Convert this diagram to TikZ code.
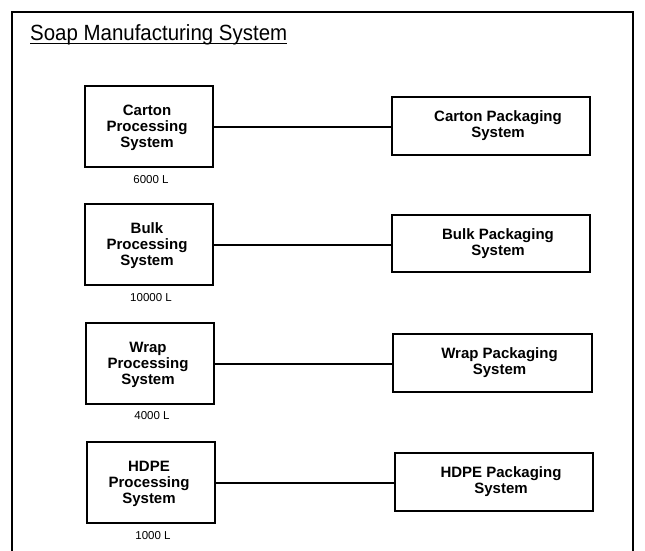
\documentclass[tikz,border=0pt]{standalone}
\usepackage{fontspec}
\setmainfont{Liberation Sans}
\newfontfamily\titlefont[FakeStretch=0.93]{Liberation Sans}
\begin{document}
\begin{tikzpicture}[x=1pt,y=-1pt,
  procbox/.style={draw=black,line width=1.1pt,minimum width=128pt,minimum height=81pt,inner sep=0pt},
  packbox/.style={draw=black,line width=1.1pt,minimum width=198pt,minimum height=58pt,inner sep=0pt},
  boxtxt/.style={align=center,font=\bfseries\fontsize{15}{16}\selectfont,inner sep=0pt},
  volcap/.style={font=\fontsize{11.5}{13}\selectfont,inner sep=0pt},
  connline/.style={draw=black,line width=2pt},
  outerframe/.style={draw=black,line width=1.2pt}]
\useasboundingbox (0,0) rectangle (645,551);
\fill[white] (0,0) rectangle (645,551);
% outer frame (open at the bottom)
\coordinate (fbl) at (12,551);
\coordinate (ftl) at (12,12);
\coordinate (ftr) at (633,12);
\coordinate (fbr) at (633,551);
\draw[outerframe] (fbl) -- (ftl) -- (ftr) -- (fbr);
% title
\node[anchor=base west,inner sep=0pt,font=\titlefont\fontsize{22}{24}\selectfont] (title) at (30,41) {Soap Manufacturing System};
\draw[line width=1pt] ([yshift=-3pt]title.base west) -- ([yshift=-3pt]title.base east);
% Carton
\node[procbox] (cl) at (149,126.5) {};
\node[boxtxt] (clt) at ([xshift=-2pt,yshift=-1pt]cl.center) {Carton\\Processing\\System};
\node[volcap] (clc) at (151,180) {6000 L};
\node[packbox] (cr) at (491,126) {};
\node[boxtxt] (crt) at ([xshift=7pt]cr.center) {Carton Packaging\\System};
\draw[connline] (cl.east) -- (cl.east -| cr.west);
% Bulk
\node[procbox] (bl) at (149,244.5) {};
\node[boxtxt] (blt) at ([xshift=-2pt,yshift=-1pt]bl.center) {Bulk\\Processing\\System};
\node[volcap] (blc) at (151,297.5) {10000 L};
\node[packbox,minimum height=57pt] (br) at (491,243.5) {};
\node[boxtxt] (brt) at ([xshift=7pt]br.center) {Bulk Packaging\\System};
\draw[connline] (bl.east) -- (bl.east -| br.west);
% Wrap
\node[procbox] (wl) at (150,363.5) {};
\node[boxtxt] (wlt) at ([xshift=-2pt,yshift=-1pt]wl.center) {Wrap\\Processing\\System};
\node[volcap] (wlc) at (152,415.5) {4000 L};
\node[packbox,minimum width=199pt] (wr) at (492.5,363) {};
\node[boxtxt] (wrt) at ([xshift=7pt]wr.center) {Wrap Packaging\\System};
\draw[connline] (wl.east) -- (wl.east -| wr.west);
% HDPE
\node[procbox] (hl) at (151,482.5) {};
\node[boxtxt] (hlt) at ([xshift=-2pt,yshift=-1pt]hl.center) {HDPE\\Processing\\System};
\node[volcap] (hlc) at (153,535.5) {1000 L};
\node[packbox] (hr) at (494,482) {};
\node[boxtxt] (hrt) at ([xshift=7pt]hr.center) {HDPE Packaging\\System};
\draw[connline] (hl.east) -- (hl.east -| hr.west);
\end{tikzpicture}
\end{document}
